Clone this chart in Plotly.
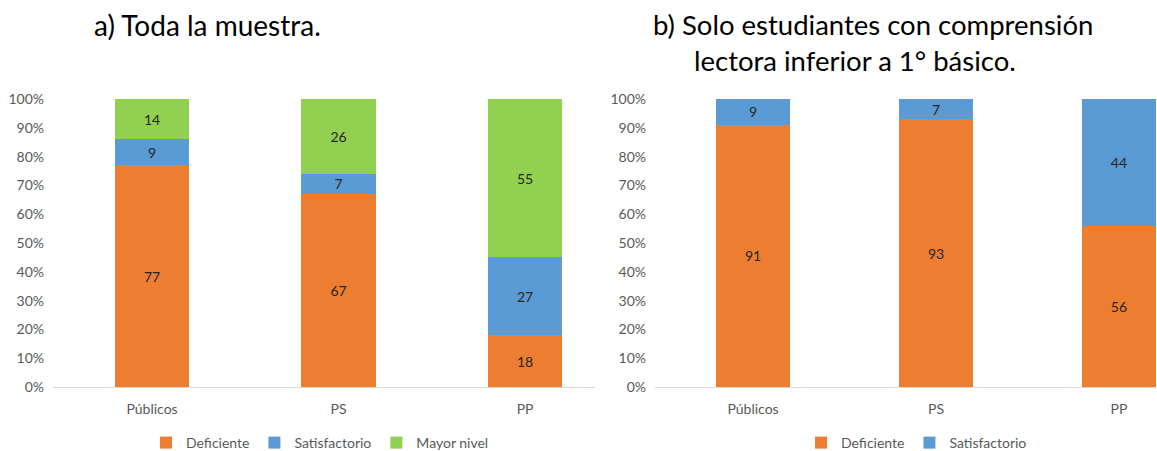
import plotly.graph_objects as go

categories = ["Públicos", "PS", "PP"]

# a) Toda la muestra
a_deficiente = [77, 67, 18]
a_satisfactorio = [9, 7, 27]
a_mayor = [14, 26, 55]

# b) Solo estudiantes con comprensión lectora inferior a 1° básico
b_deficiente = [91, 93, 56]
b_satisfactorio = [9, 7, 44]

series_names = ["Deficiente", "Satisfactorio", "Mayor nivel"]
colors = ["#ED7D31", "#5B9BD5", "#92D050"]

y_ticks = [0, 10, 20, 30, 40, 50, 60, 70, 80, 90, 100]

FONT = "Lato"
W, H = 1157, 451

fig = go.Figure()

def add_bar(x_cats, vals, name, color, xa, ya, leg):
    fig.add_trace(go.Bar(
        x=x_cats, y=vals, name=name, marker=dict(color=color, line=dict(width=0)),
        text=[str(v) for v in vals], textposition="inside", insidetextanchor="middle",
        textangle=0,
        textfont=dict(family=FONT, size=14, color="#262626"),
        constraintext="none",
        width=0.4, xaxis=xa, yaxis=ya, legend=leg, hoverinfo="skip",
    ))

left_series = [a_deficiente, a_satisfactorio, a_mayor]
for vals, name, color in zip(left_series, series_names, colors):
    add_bar(categories, vals, name, color, "x", "y", "legend")

right_series = [b_deficiente, b_satisfactorio]
for vals, name, color in zip(right_series, series_names[:2], colors[:2]):
    add_bar(categories, vals, name, color, "x2", "y2", "legend2")

y_bottom = (H - 387) / H
y_top = (H - 99) / H

axis_font = dict(family=FONT, size=14, color="#595959")

xcommon = dict(type="category", showgrid=False, zeroline=False, showline=True,
               linecolor="#D9D9D9", linewidth=1, ticks="", tickfont=axis_font,
               ticklabelstandoff=9, fixedrange=True, automargin=False)
ycommon = dict(range=[0, 100], tickvals=y_ticks, ticktext=[f"{v}%" for v in y_ticks],
               showgrid=False, zeroline=False, showline=False, ticks="",
               tickfont=axis_font, ticklabelstandoff=8, domain=[y_bottom, y_top],
               fixedrange=True, automargin=False)

fig.update_layout(
    width=W, height=H,
    margin=dict(l=0, r=0, t=0, b=0, autoexpand=False),
    paper_bgcolor="white", plot_bgcolor="white",
    barmode="stack", bargap=0.6,
    showlegend=True,
    font=dict(family=FONT),
    xaxis=dict(domain=[53 / W, 595 / W], range=[-0.531, 2.375], anchor="y", **xcommon),
    yaxis=dict(anchor="x", **ycommon),
    xaxis2=dict(domain=[655 / W, 1.0], range=[-0.536, 2.208], anchor="y2", **xcommon),
    yaxis2=dict(anchor="x2", **ycommon),
    legend=dict(orientation="h", x=146 / W, xanchor="left", y=8 / H, yanchor="middle",
                font=dict(family=FONT, size=14, color="#595959"), traceorder="normal",
                bgcolor="rgba(0,0,0,0)", itemclick=False, itemdoubleclick=False),
    legend2=dict(orientation="h", x=801 / W, xanchor="left", y=8 / H, yanchor="middle",
                 font=dict(family=FONT, size=14, color="#595959"), traceorder="normal",
                 bgcolor="rgba(0,0,0,0)", itemclick=False, itemdoubleclick=False),
)

title_font = dict(family=FONT, size=28, color="#000000")
title_font_b = dict(family=FONT, size=27.5, color="#000000")
fig.add_annotation(text="a) Toda la muestra.", xref="paper", yref="paper",
                   x=92 / W, xanchor="left", y=1 - 25 / H, yanchor="middle",
                   showarrow=False, font=title_font)
fig.add_annotation(text="b) Solo estudiantes con comprensión", xref="paper", yref="paper",
                   x=651 / W, xanchor="left", y=1 - 25 / H, yanchor="middle",
                   showarrow=False, font=title_font_b)
fig.add_annotation(text="lectora inferior a 1° básico.", xref="paper", yref="paper",
                   x=692 / W, xanchor="left", y=1 - 60 / H, yanchor="middle",
                   showarrow=False, font=title_font_b)

fig.write_html("out.html", config={"displayModeBar": False},
               post_script="document.body.style.margin='0px';document.body.style.overflow='hidden';")
